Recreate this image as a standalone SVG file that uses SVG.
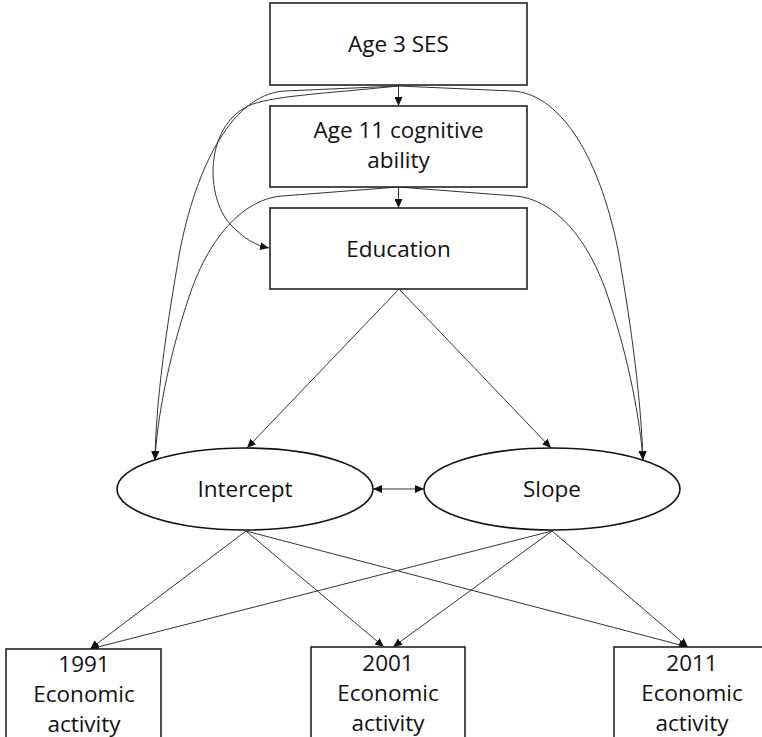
<svg xmlns="http://www.w3.org/2000/svg" width="762" height="737" viewBox="0 0 762 737">
<defs>
<marker id="ah" viewBox="0 0 9 8" refX="9" refY="4" markerWidth="9" markerHeight="8" markerUnits="userSpaceOnUse" orient="auto-start-reverse">
<path d="M0,0 L9,4 L0,8 z" fill="#111"/>
</marker>
<style>
.box{fill:#fff;stroke:#222;stroke-width:1.6}
.ell{fill:#fff;stroke:#111;stroke-width:1.6}
.t{font-family:"Open Sans","Liberation Sans",sans-serif;font-size:22.5px;fill:#111;text-anchor:middle}
.c{fill:none;stroke:#333;stroke-width:1;marker-end:url(#ah)}
</style>
</defs>
<rect width="762" height="737" fill="#fff"/>
<g id="connectors">
<path class="c" d="M398.5,86 L398.5,106"/>
<path class="c" d="M398.5,187 L398.5,208"/>
<path class="c" d="M398.5,86 L285,91 C240,93 200,150 180,250 C166,330 156,400 155,460"/>
<path class="c" d="M398.5,86 C320,94 270,96 248,106 C205,127 205,196 230,224 C244,239 255,245 269,248"/>
<path class="c" d="M398.5,187 L282,196 C242,199 207,240 188,300 C168,360 157,420 155,460"/>
<path class="c" d="M398.5,86 L512,91 C557,93 598,150 618,250 C632,330 641,400 643,460"/>
<path class="c" d="M398.5,187 L515,196 C555,199 590,240 609,300 C629,360 640,420 643,460"/>
<path class="c" d="M399,289 L247,448"/>
<path class="c" d="M399,289 L551,448"/>
<path class="c" d="M373,489 L424,489" style="marker-start:url(#ah)"/>
<path class="c" d="M246,531 L90,649"/>
<path class="c" d="M246,531 L384,647"/>
<path class="c" d="M246,531 L688,647"/>
<path class="c" d="M552,531 L90,649"/>
<path class="c" d="M552,531 L393,647"/>
<path class="c" d="M552,531 L688,647"/>
</g>
<g id="ses">
<rect class="box" x="270" y="3" width="257" height="82"/>
<text class="t" x="398.5" y="52">Age 3 SES</text>
</g>
<g id="cog">
<rect class="box" x="270" y="106" width="257" height="81"/>
<text class="t" x="398.5" y="138">Age 11 cognitive</text>
<text class="t" x="398.5" y="168">ability</text>
</g>
<g id="edu">
<rect class="box" x="270" y="208" width="257" height="81"/>
<text class="t" x="398.5" y="257">Education</text>
</g>
<g id="intercept">
<ellipse class="ell" cx="245" cy="489" rx="128" ry="41"/>
<text class="t" x="245" y="497">Intercept</text>
</g>
<g id="slope">
<ellipse class="ell" cx="552" cy="489" rx="128" ry="41"/>
<text class="t" x="552" y="497">Slope</text>
</g>
<g id="ea1991">
<rect class="box" x="6" y="649" width="155" height="100"/>
<text class="t" x="84" y="672">1991</text>
<text class="t" x="84" y="702">Economic</text>
<text class="t" x="84" y="732">activity</text>
</g>
<g id="ea2001">
<rect class="box" x="311" y="647" width="154" height="100"/>
<text class="t" x="388" y="671">2001</text>
<text class="t" x="388" y="701">Economic</text>
<text class="t" x="388" y="731">activity</text>
</g>
<g id="ea2011">
<rect class="box" x="614" y="647" width="158" height="100"/>
<text class="t" x="692" y="671">2011</text>
<text class="t" x="692" y="701">Economic</text>
<text class="t" x="692" y="731">activity</text>
</g>
</svg>
